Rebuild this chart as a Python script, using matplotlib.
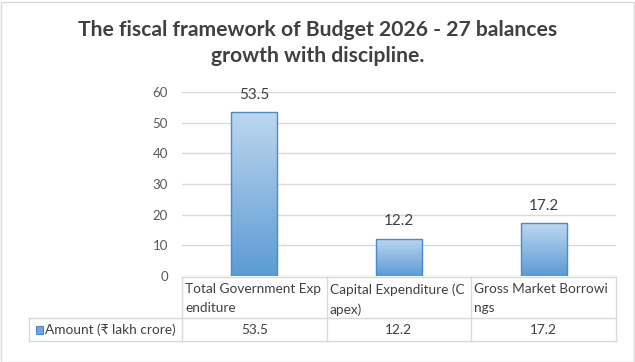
import numpy as np
import matplotlib.pyplot as plt
from matplotlib.colors import LinearSegmentedColormap
from matplotlib.transforms import blended_transform_factory
from matplotlib.lines import Line2D
from matplotlib.patches import Rectangle

# data
categories = ['Total Government Exp\nenditure', 'Capital Expenditure (C\napex)', 'Gross Market Borrowi\nngs']
values = [53.5, 12.2, 17.2]
series_name = 'Amount (\u20b9 lakh crore)'
title = 'The fiscal framework of Budget 2026 - 27 balances\ngrowth with discipline.'

fam = ['Lato', 'DejaVu Sans']
plt.rcParams['font.family'] = fam
grid_c = '#D9D9D9'
txt_c = '#404040'

W, H = 635, 362
fig = plt.figure(figsize=(W / 100, H / 100), dpi=100)
fig.patch.set_facecolor('white')

# pixel -> figure fraction (y counted from top)
def fx(px):
    return px / W

def fy(py):
    return 1 - py / H

left, right, top, bottom = 182, 616, 92, 276
ax = fig.add_axes([fx(left), fy(bottom), fx(right - left), (bottom - top) / H])
x = np.arange(len(values))
bars = ax.bar(x, values, width=0.32, color='none', edgecolor='#4A8ACB', linewidth=1.0, zorder=3)

cmap = LinearSegmentedColormap.from_list('g', ['#5B9BD5', '#BDD7EE'])
grad = np.linspace(0, 1, 256).reshape(-1, 1)
for b in bars:
    im = ax.imshow(grad, extent=[b.get_x(), b.get_x() + b.get_width(), 0, b.get_height()],
                   origin='lower', aspect='auto', cmap=cmap, zorder=2)
    im.set_clip_path(b)
    ax.text(b.get_x() + b.get_width() / 2, b.get_height() + 3.3, f'{b.get_height():.1f}',
            ha='center', va='bottom', fontsize=11, color=txt_c)

ax.set_xlim(-0.5, len(values) - 0.5)
ax.set_ylim(0, 60)
ax.set_yticks(range(0, 61, 10))
ax.yaxis.grid(True, color=grid_c, linewidth=1.0)
ax.set_axisbelow(True)
for s in ax.spines.values():
    s.set_visible(False)
ax.tick_params(axis='y', length=0, pad=10, labelsize=9.5, labelcolor='#595959')
ax.tick_params(axis='x', length=0, labelbottom=False)

# data table under the plot, columns follow the category axis
tr = blended_transform_factory(ax.transData, fig.transFigure)
t_top, t_mid, t_bot = 277, 318, 341
edges = np.arange(len(values) + 1) - 0.5
for e in edges:
    fig.add_artist(Line2D([e, e], [fy(t_top), fy(t_bot)], transform=tr, color=grid_c, lw=1))
fig.add_artist(Line2D([edges[0], edges[-1]], [fy(t_top), fy(t_top)], transform=tr, color=grid_c, lw=1))
rl = 29
fig.add_artist(Line2D([fx(rl), fx(right)], [fy(t_mid), fy(t_mid)], transform=fig.transFigure, color=grid_c, lw=1))
fig.add_artist(Line2D([fx(rl), fx(right)], [fy(t_bot), fy(t_bot)], transform=fig.transFigure, color=grid_c, lw=1))
fig.add_artist(Line2D([fx(rl), fx(rl)], [fy(t_mid), fy(t_bot)], transform=fig.transFigure, color=grid_c, lw=1))

for i, (c, v) in enumerate(zip(categories, values)):
    fig.text(edges[i] + 0.02, fy(t_top + 6), c, transform=tr, fontsize=9.8,
             color=txt_c, ha='left', va='top', linespacing=1.75)
    fig.text(i, fy((t_mid + t_bot) / 2), f'{v:.1f}', transform=tr, fontsize=9.8,
             color=txt_c, ha='center', va='center')

# legend key + series name
fig.add_artist(Rectangle((fx(36), fy(334)), 7 / W, 8 / H, transform=fig.transFigure,
                         facecolor='#6FA7DC', edgecolor='#4A8ACB', lw=0.8))
fig.text(fx(45), fy((t_mid + t_bot) / 2), series_name, fontsize=9.8, color=txt_c,
         ha='left', va='center', family=fam)

fig.text(0.5, fy(43), title, ha='center', va='center', fontsize=15.2, fontweight='bold',
         color=txt_c, linespacing=1.35)

# outer border
fig.add_artist(Rectangle((0.5 / W, 0.5 / H), 1 - 2 / W, 1 - 2 / H, transform=fig.transFigure,
                         facecolor='none', edgecolor=grid_c, lw=1))

fig.savefig('out.png', dpi=100)
